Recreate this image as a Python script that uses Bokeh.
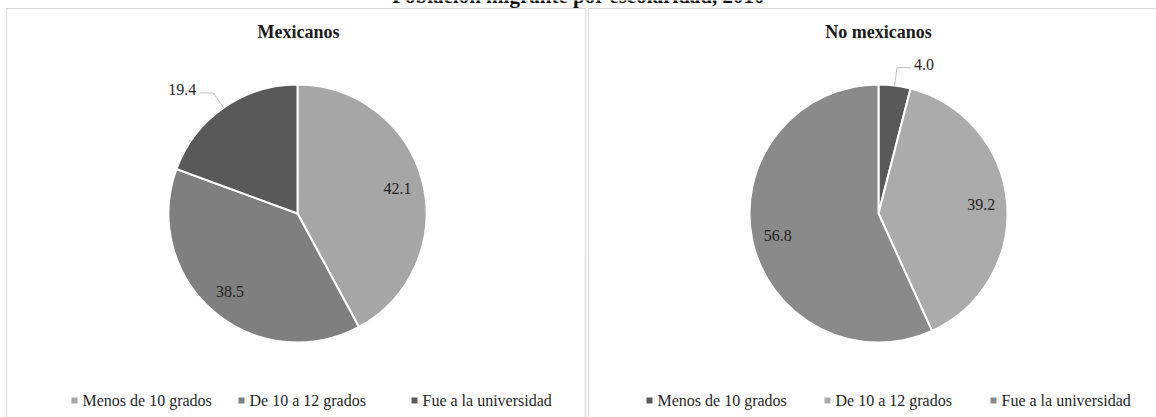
import numpy as np
from bokeh.plotting import figure
from bokeh.models import Range1d, ColumnDataSource
from bokeh.core.properties import value
from bokeh.embed import file_html
from bokeh.resources import INLINE

# --- data -------------------------------------------------------------
categories = ["Menos de 10 grados", "De 10 a 12 grados", "Fue a la universidad"]
groups = ["Mexicanos", "No mexicanos"]
mexicanos = [42.1, 38.5, 19.4]
no_mexicanos = [4.0, 39.2, 56.8]
colors_mexicanos = ["#a6a6a6", "#7f7f7f", "#595959"]
colors_no_mexicanos = ["#595959", "#ababab", "#8a8a8a"]
outside_label = [[False, False, True], [True, False, False]]

W, H = 1156, 417
FONT = value("Liberation Serif")
TXT = "#1f1f1f"

p = figure(width=W, height=H, output_backend="svg", toolbar_location=None,
           x_range=Range1d(0, W), y_range=Range1d(0, H),
           x_axis_location=None, y_axis_location=None)
p.min_border = 0
p.outline_line_color = None
p.xgrid.visible = False
p.ygrid.visible = False
p.background_fill_color = "white"
p.border_fill_color = "white"


def sy(y):
    """screen y (from top) -> plot y"""
    return H - y


# panel frames
p.quad(left=[6, 588], right=[585, 1175], top=[sy(8), sy(8)], bottom=[-5, -5],
       fill_color=None, line_color="#d9d9d9", line_width=1.2)

# heading running off the top of the page
p.text(x=[578], y=[sy(7)], text=["Población migrante por escolaridad, 2010"],
       text_font=FONT, text_font_style="bold", text_font_size="21px",
       text_align="center", text_baseline="bottom", text_color="#111111")

panels = [
    dict(title=groups[0], vals=mexicanos, colors=colors_mexicanos, cx=297, cy=213,
         tx=298, outside=outside_label[0],
         legend_sq=[74, 241, 414]),
    dict(title=groups[1], vals=no_mexicanos, colors=colors_no_mexicanos, cx=878, cy=213,
         tx=878, outside=outside_label[1],
         legend_sq=[649, 827, 993]),
]

R = 129
for pan in panels:
    vals = np.array(pan["vals"], dtype=float)
    frac = vals / vals.sum()
    cum = np.concatenate([[0], np.cumsum(frac)])
    start = np.pi / 2 - 2 * np.pi * cum[:-1]
    end = np.pi / 2 - 2 * np.pi * cum[1:]
    cx, cy = pan["cx"], sy(pan["cy"])
    src = ColumnDataSource(dict(x=[cx] * 3, y=[cy] * 3, start=start, end=end,
                                color=pan["colors"]))
    p.wedge(x="x", y="y", radius=R, start_angle="start", end_angle="end",
            direction="clock", fill_color="color", line_color="white",
            line_width=2, source=src)

    # value labels
    mid = np.pi / 2 - 2 * np.pi * (cum[:-1] + cum[1:]) / 2
    for i, v in enumerate(pan["vals"]):
        dx, dy = np.cos(mid[i]), np.sin(mid[i])
        if pan["outside"][i]:
            ex, ey = cx + R * dx, cy + R * dy
            bx, by = cx + (R + 18) * dx, cy + (R + 18) * dy
            side = 1 if dx >= 0 else -1
            hx = bx + side * 14
            p.line(x=[ex, bx, hx], y=[ey, by, by], line_color="#bfbfbf", line_width=1)
            p.text(x=[hx + side * 3], y=[by + 3], text=[f"{v:.1f}"], text_font=FONT,
                   text_font_size="16px", text_color=TXT,
                   text_align="left" if side > 0 else "right", text_baseline="middle")
        else:
            lx, ly = cx + 0.8 * R * dx, cy + 0.8 * R * dy
            p.text(x=[lx], y=[ly], text=[f"{v:.1f}"], text_font=FONT,
                   text_font_size="16px", text_color=TXT,
                   text_align="center", text_baseline="middle")

    # panel title
    p.text(x=[pan["tx"]], y=[sy(31)], text=[pan["title"]], text_font=FONT,
           text_font_style="bold", text_font_size="18px", text_color="#1a1a1a",
           text_align="center", text_baseline="middle")

    # legend
    for j, cat in enumerate(categories):
        sx = pan["legend_sq"][j]
        p.scatter(x=[sx], y=[sy(400)], marker="square", size=6,
                  fill_color=pan["colors"][j], line_color=None)
        p.text(x=[sx + 8], y=[sy(400)], text=[cat], text_font=FONT,
               text_font_size="16px", text_color=TXT,
               text_align="left", text_baseline="middle")

open("out.html", "w").write(file_html(p, INLINE))
